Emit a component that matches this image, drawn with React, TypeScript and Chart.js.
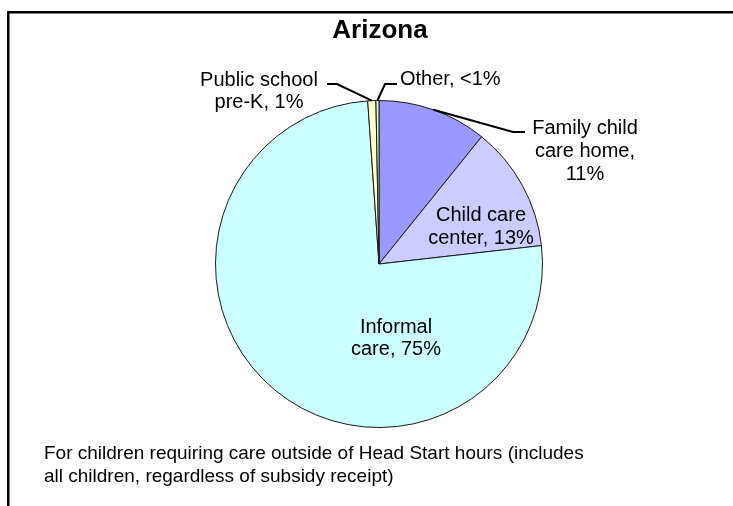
import React, { useEffect, useRef } from "react";
import { Chart, registerables } from "chart.js";
Chart.register(...registerables);

const chartTitle = "Arizona";
const categories = ["Family child care home", "Child care center", "Informal care", "Public school pre-K", "Other"];
const shares = [10.8, 12.4, 75.7, 0.8, 0.3];
const sliceLabels = [
  ["Family child", "care home,", "11%"],
  ["Child care", "center, 13%"],
  ["Informal", "care, 75%"],
  ["Public school", "pre-K, 1%"],
  ["Other, <1%"],
];
const sliceColors = ["#9999FF", "#CCCCFF", "#CCFFFF", "#FFFFCC", "#CCFFCC"];
const footnote = [
  "For children requiring care outside of Head Start hours (includes",
  "all children, regardless of subsidy receipt)",
];

// label layout relative to pie centre (px): text x, first baseline y, line height, align, leader path (elbow points)
const labelLayout = [
  { x: 206, y: -130, lh: 23, align: "center", leader: [[134, -132], [146, -132]] },
  { x: 102, y: -43, lh: 23, align: "center", leader: null },
  { x: 17, y: 69, lh: 22, align: "center", leader: null },
  { x: -120, y: -178, lh: 22, align: "center", leader: [[-42, -180], [-52, -180]] },
  { x: 21, y: -179, lh: 22, align: "left", leader: [[6, -180], [18, -180]] },
];

const FONT = '"Liberation Sans", Arial, Helvetica, sans-serif';

const decorPlugin = {
  id: "decor",
  beforeDraw(chart: any) {
    const ctx = chart.ctx;
    ctx.save();
    ctx.fillStyle = "#fff";
    ctx.fillRect(0, 0, chart.width, chart.height);
    ctx.strokeStyle = "#000";
    ctx.lineWidth = 2.5;
    ctx.strokeRect(8.25, 12.25, 900, 700);
    ctx.restore();
  },
  afterDraw(chart: any) {
    const ctx = chart.ctx;
    const meta = chart.getDatasetMeta(0);
    const first = meta.data[0];
    const cx = first.x;
    const cy = first.y;
    ctx.save();
    ctx.fillStyle = "#000";
    ctx.font = "bold 26px " + FONT;
    ctx.textAlign = "center";
    ctx.textBaseline = "alphabetic";
    ctx.fillText(chartTitle, 380, 38);

    meta.data.forEach((arc: any, i: number) => {
      const lay = labelLayout[i];
      const lines = sliceLabels[i];
      if (lay.leader) {
        const mid = (arc.startAngle + arc.endAngle) / 2;
        const r = arc.outerRadius;
        ctx.beginPath();
        ctx.strokeStyle = "#000";
        ctx.lineWidth = 2;
        ctx.moveTo(cx + Math.cos(mid) * r, cy + Math.sin(mid) * r);
        lay.leader.forEach((p: number[]) => ctx.lineTo(cx + p[0], cy + p[1]));
        ctx.stroke();
      }
      ctx.font = "20px " + FONT;
      ctx.textAlign = lay.align;
      lines.forEach((t, k) => ctx.fillText(t, cx + lay.x, cy + lay.y + k * lay.lh));
    });

    ctx.font = "19px " + FONT;
    ctx.textAlign = "left";
    footnote.forEach((t, k) => ctx.fillText(t, 44, 459 + k * 23));
    ctx.restore();
  },
};

export default function App() {
  const ref = useRef<HTMLCanvasElement>(null);
  useEffect(() => {
    const chart = new Chart(ref.current!, {
      type: "pie",
      data: {
        labels: categories,
        datasets: [
          {
            data: shares,
            backgroundColor: sliceColors,
            borderColor: "#1a1a1a",
            borderWidth: 1,
          },
        ],
      },
      options: {
        responsive: false,
        animation: false,
        layout: { padding: { left: 215, right: 190, top: 100, bottom: 78 } },
        plugins: { legend: { display: false }, tooltip: { enabled: false }, title: { display: false } },
      },
      plugins: [decorPlugin],
    });
    return () => chart.destroy();
  }, []);
  return (
    <div style={{ position: "absolute", left: 0, top: 0, width: 733, height: 506 }}>
      <canvas ref={ref} width={733} height={506} />
    </div>
  );
}
